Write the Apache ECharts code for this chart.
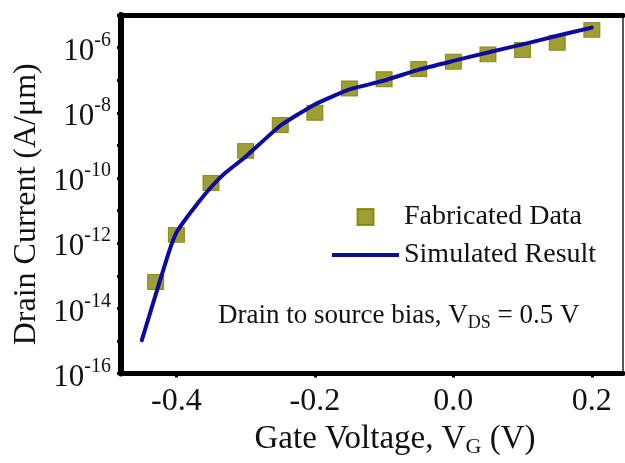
<!DOCTYPE html>
<html>
<head>
<meta charset="utf-8">
<script src="https://cdn.jsdelivr.net/npm/echarts@6/dist/echarts.min.js"></script>
<style>
html,body{margin:0;padding:0;background:#fff;}
#chart{width:625px;height:463px;}
</style>
</head>
<body>
<div id="chart"></div>
<script>
// Fabricated (measured) data
const fabX = [-0.43, -0.40, -0.35, -0.30, -0.25, -0.20, -0.15, -0.10, -0.05, 0.00, 0.05, 0.10, 0.15, 0.20];
const fabY = [6.5e-14, 1.8e-12, 7.0e-11, 6.8e-10, 4.2e-9, 1.0e-8, 5.6e-8, 1.07e-7, 2.2e-7, 3.7e-7, 6.2e-7, 8.5e-7, 1.4e-6, 3.5e-6];
// Simulated result
const simX = [-0.45, -0.43, -0.41, -0.40, -0.39, -0.37, -0.35, -0.33, -0.30, -0.25, -0.20, -0.15, -0.10, -0.05, 0.00, 0.05, 0.10, 0.15, 0.20];
const simY = [1.05e-15, 2.6e-14, 6.0e-13, 2.1e-12, 4.4e-12, 1.6e-11, 5.2e-11, 1.4e-10, 4.5e-10, 4.0e-9, 1.8e-8, 5.2e-8, 9.8e-8, 2.1e-7, 3.9e-7, 7.1e-7, 1.26e-6, 2.3e-6, 4.1e-6];
// Tick labels
const xTicks = [-0.4, -0.2, 0.0, 0.2];
const yLabelExponents = [-16, -14, -12, -10, -8, -6];

const FONT = "'Liberation Serif', 'Times New Roman', serif";
const fabData = fabX.map((x, i) => [x, fabY[i]]);
const simData = simX.map((x, i) => [x, simY[i]]);

const chart = echarts.init(document.getElementById('chart'), null, {renderer: 'canvas'});
chart.setOption({
  backgroundColor: '#ffffff',
  animation: false,
  grid: {left: 121, right: 2, top: 15, bottom: 88, show: false},
  legend: {
    orient: 'vertical',
    left: 332,
    top: 202,
    padding: 0,
    itemWidth: 67,
    itemHeight: 16,
    itemGap: 8,
    symbolKeepAspect: true,
    textStyle: {fontFamily: FONT, fontSize: 28, color: '#111', lineHeight: 30},
    data: [
      {name: 'Fabricated Data', icon: 'path://M0,0H10V10H0Z'},
      {name: 'Simulated Result', icon: 'path://M0,0H67V4H0Z'}
    ]
  },
  xAxis: [{
    type: 'value',
    min: -0.48,
    max: 0.245,
    position: 'bottom',
    name: 'Gate Voltage, V{sub|G} (V)',
    nameLocation: 'middle',
    nameGap: 42,
    nameTextStyle: {
      fontFamily: FONT, fontSize: 33, color: '#111', padding: [0, 0, 0, 46],
      rich: {sub: {fontFamily: FONT, fontSize: 22, color: '#111', padding: [16, 0, 0, 0]}}
    },
    axisLine: {show: true, onZero: false, lineStyle: {color: '#000', width: 5}},
    axisTick: {show: true, inside: false, length: 4, lineStyle: {width: 3, color: '#000'}, customValues: xTicks},
    axisLabel: {
      show: true, margin: 12, fontFamily: FONT, fontSize: 32, color: '#111',
      customValues: xTicks,
      formatter: v => v.toFixed(1)
    },
    splitLine: {show: false}
  }, {
    type: 'value',
    min: -0.48,
    max: 0.245,
    position: 'top',
    axisLine: {show: true, onZero: false, lineStyle: {color: '#000', width: 5}},
    axisTick: {show: false},
    axisLabel: {show: false},
    splitLine: {show: false}
  }],
  yAxis: [{
    type: 'log',
    logBase: 10,
    min: 1e-16,
    max: 1e-5,
    interval: 1,
    position: 'left',
    name: 'Drain Current (A/μm)',
    nameLocation: 'middle',
    nameGap: 76,
    nameTextStyle: {fontFamily: FONT, fontSize: 32, color: '#111', padding: [0, 20, 0, 0]},
    axisLine: {show: true, onZero: false, lineStyle: {color: '#000', width: 6}},
    axisTick: {show: true, inside: false, length: 4, lineStyle: {width: 3, color: '#000'}},
    axisLabel: {
      show: true, margin: 10,
      formatter: function (v) {
        const e = Math.round(Math.log10(v));
        if (yLabelExponents.indexOf(e) < 0) return '';
        return '{b|10}{s|' + e + '}';
      },
      rich: {
        b: {fontFamily: FONT, fontSize: 31, color: '#111', lineHeight: 34, padding: [8, 0, 0, 0]},
        s: {fontFamily: FONT, fontSize: 20, color: '#111', verticalAlign: 'top', padding: [0, 0, 14, 0]}
      }
    },
    splitLine: {show: false}
  }, {
    type: 'value',
    min: 0,
    max: 1,
    position: 'right',
    axisLine: {show: true, onZero: false, lineStyle: {color: '#222', width: 1.5}},
    axisTick: {show: false},
    axisLabel: {show: false},
    splitLine: {show: false}
  }],
  graphic: [{
    type: 'text',
    left: 218,
    top: 302,
    style: {
      text: 'Drain to source bias, V{sub|DS} = 0.5 V',
      fontFamily: FONT, fontSize: 27, fill: '#111',
      rich: {sub: {fontFamily: FONT, fontSize: 18, fill: '#111', padding: [15, 0, 0, 0]}}
    }
  }],
  series: [{
    name: 'Fabricated Data',
    type: 'scatter',
    xAxisIndex: 0,
    yAxisIndex: 0,
    symbol: 'rect',
    symbolSize: [16, 15],
    itemStyle: {color: '#868600', borderColor: '#7a7a00', borderWidth: 1},
    data: fabData,
    z: 2
  }, {
    name: 'Simulated Result',
    type: 'line',
    xAxisIndex: 0,
    yAxisIndex: 0,
    showSymbol: false,
    symbol: 'none',
    smooth: 0.15,
    lineStyle: {color: '#0b0ba0', width: 4, cap: 'round', join: 'round'},
    itemStyle: {color: '#0b0ba0'},
    data: simData,
    z: 3
  }]
});
</script>
</body>
</html>
